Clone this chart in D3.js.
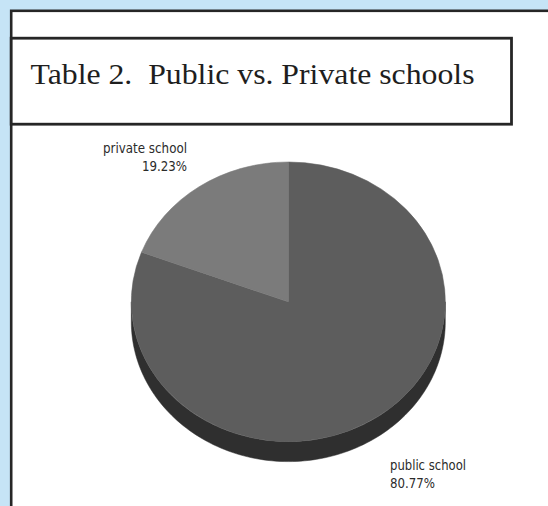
<!DOCTYPE html>
<html>
<head>
<meta charset="utf-8">
<script src="https://cdn.jsdelivr.net/npm/d3@7"></script>
<style>
  html, body { margin: 0; padding: 0; background: #c6e4f6; }
  svg { display: block; }
</style>
</head>
<body>
<svg id="chart" width="548" height="506"></svg>
<script>
// ---- data ----
const categories = ["public school", "private school"];
const values = [80.77, 19.23];
const valueLabels = ["80.77%", "19.23%"];
const title = "Table 2.  Public vs. Private schools";

// ---- styles ----
const topColors = ["#5d5d5d", "#7b7b7b"];
const sideColors = ["#2f2f2f", "#3d3d3d"];

const W = 548, H = 506;
const svg = d3.select("#chart");

// background panel
svg.append("rect").attr("x", 0).attr("y", 0).attr("width", W).attr("height", H).attr("fill", "#c6e4f6");
svg.append("rect").attr("x", 11.2).attr("y", 10.8).attr("width", W).attr("height", H)
  .attr("fill", "#ffffff").attr("stroke", "#262626").attr("stroke-width", 2.6);

// title box
svg.append("rect").attr("x", 11.2).attr("y", 38.2).attr("width", 500.3).attr("height", 86)
  .attr("fill", "#ffffff").attr("stroke", "#262626").attr("stroke-width", 2.8);
svg.append("text").attr("x", 30.5).attr("y", 84)
  .attr("font-family", "'Liberation Serif', 'Times New Roman', serif")
  .attr("font-size", 30).attr("fill", "#1e1e1e")
  .attr("xml:space", "preserve")
  .attr("textLength", 444).attr("lengthAdjust", "spacingAndGlyphs")
  .text(title);

// pie geometry
const cx = 288.3, cy = 301.8, rx = 157, ry = 139.8, depth = 20;
const pie = d3.pie().sort(null).value(d => d)(values);

const pt = (a, dy) => [cx + rx * Math.sin(a), cy - ry * Math.cos(a) + (dy || 0)];

// side walls (visible lower half: angles in [PI/2, 3PI/2])
const g = svg.append("g");
pie.forEach((p, i) => {
  const a0 = Math.max(p.startAngle, Math.PI / 2);
  const a1 = Math.min(p.endAngle, 3 * Math.PI / 2);
  if (a1 <= a0) return;
  const n = 120;
  const top = d3.range(n + 1).map(k => pt(a0 + (a1 - a0) * k / n, 0));
  const bot = top.map(([x, y]) => [x, y + depth]).reverse();
  g.append("path")
    .attr("d", d3.line()(top.concat(bot)) + "Z")
    .attr("fill", sideColors[i]).attr("stroke", sideColors[i]).attr("stroke-width", 0.5);
});

// top faces
const arc = d3.arc().innerRadius(0).outerRadius(rx);
const topG = svg.append("g").attr("transform", `translate(${cx},${cy}) scale(1,${ry / rx})`);
topG.selectAll("path").data(pie).join("path")
  .attr("d", arc)
  .attr("fill", (d, i) => topColors[i])
  .attr("stroke", (d, i) => topColors[i]).attr("stroke-width", 0.6);

// labels
const labelFont = "'Liberation Sans Narrow', 'DejaVu Sans Condensed', 'Liberation Sans', sans-serif";
const labelPos = [
  { x: cx + 101.7, y1: cy + ry + 28.5, anchor: "start", w1: 76, w2: 45 },
  { x: cx - 101.3, y1: cy - ry - 9, anchor: "end", w1: 84, w2: 45 }
];
categories.forEach((c, i) => {
  const lp = labelPos[i];
  svg.append("text").attr("x", lp.x).attr("y", lp.y1)
    .attr("text-anchor", lp.anchor).attr("font-family", labelFont)
    .attr("font-size", 14.5).attr("fill", "#2b2b2b")
    .attr("textLength", lp.w1).attr("lengthAdjust", "spacingAndGlyphs")
    .text(c);
  svg.append("text").attr("x", lp.x).attr("y", lp.y1 + 17.5)
    .attr("text-anchor", lp.anchor).attr("font-family", labelFont)
    .attr("font-size", 14.5).attr("fill", "#2b2b2b")
    .attr("textLength", lp.w2).attr("lengthAdjust", "spacingAndGlyphs")
    .text(valueLabels[i]);
});
</script>
</body>
</html>
